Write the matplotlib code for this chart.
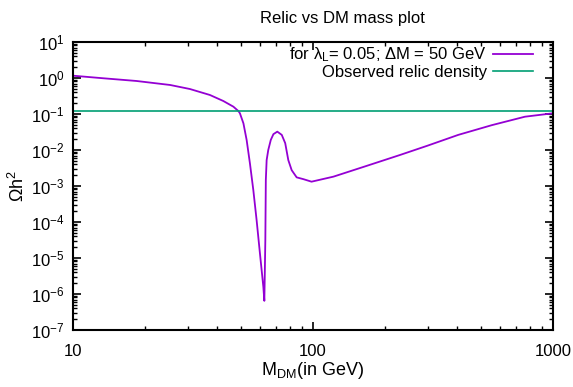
import matplotlib
matplotlib.use("Agg")
import matplotlib.pyplot as plt
from matplotlib.ticker import LogLocator, FixedLocator, FixedFormatter

plt.rcParams['font.family'] = ['Liberation Sans', 'DejaVu Sans']

# relic density curve (mass in GeV, log10 of Omega h^2)
mass = [10.0, 13.4, 18.4, 25.4, 30.7, 37.2, 42.3, 46.6, 48.9, 49.6, 51.3, 52.9,
        54.6, 56.4, 58.2, 60.1, 62.1, 62.7, 63.3, 63.6, 64.1, 65.1, 66.7, 68.4,
        71.0, 74.1, 76.6, 78.9, 81.5, 85.5, 91.2, 98.6, 121.7, 167.5, 230, 300,
        403, 556, 764, 1000]
log_omega = [0.064, -0.008, -0.083, -0.194, -0.306, -0.472, -0.639, -0.797, -0.92,
             -0.98, -1.26, -1.72, -2.37, -3.11, -3.94, -4.87, -5.80, -6.19, -4.5,
             -2.83, -2.28, -2.0, -1.72, -1.56, -1.49, -1.58, -1.81, -2.28, -2.56,
             -2.76, -2.81, -2.88, -2.74, -2.44, -2.14, -1.88, -1.58, -1.31, -1.075,
             -0.98]
omega = [10 ** v for v in log_omega]

observed = 0.12
x_ticks = [10, 100, 1000]

fig = plt.figure(figsize=(5.73, 3.87), dpi=100)
ax = fig.add_axes([73 / 573, 1 - 330 / 387, 480 / 573, 288 / 387])

ax.plot(mass, omega, color='#9400d3', lw=1.3,
        label=r'for $\mathregular{\lambda_L}$= 0.05; $\mathregular{\Delta}$M = 50 GeV')
ax.axhline(observed, color='#009e73', lw=1.2, label='Observed relic density')

ax.set_xscale('log')
ax.set_yscale('log')
ax.set_xlim(10, 1000)
ax.set_ylim(1e-7, 10)
ax.xaxis.set_major_locator(FixedLocator(x_ticks))
ax.xaxis.set_major_formatter(FixedFormatter([str(t) for t in x_ticks]))
ax.xaxis.set_minor_locator(LogLocator(base=10, subs=range(2, 10)))
ax.yaxis.set_major_locator(LogLocator(base=10, numticks=20))
ax.yaxis.set_minor_locator(LogLocator(base=10, subs=range(2, 10), numticks=20))

ax.tick_params(which='both', direction='in', top=True, right=True, labelsize=12)
ax.tick_params(which='major', length=6, width=1.2, pad=6)
ax.tick_params(which='minor', length=3, width=1)
ax.tick_params(axis='x', which='major', pad=10)
ax.xaxis.set_minor_formatter(FixedFormatter([]))
for s in ax.spines.values():
    s.set_linewidth(1.5)

ax.set_xlabel(r'M$_{\mathregular{DM}}$(in GeV)', fontsize=13, labelpad=1)
ax.set_ylabel(r'$\mathregular{\Omega}$h$^{\mathregular{2}}$', fontsize=13, labelpad=2)
fig.text(342 / 573, 1 - 19 / 387, 'Relic vs DM mass plot', ha='center', va='center', fontsize=12)

ax.legend(loc='upper right', bbox_to_anchor=(0.98, 1.022), frameon=False, markerfirst=False,
          fontsize=12, handlelength=2.4, handletextpad=0.4, labelspacing=0.05,
          borderaxespad=0.2)

fig.savefig('out.png', dpi=100)
